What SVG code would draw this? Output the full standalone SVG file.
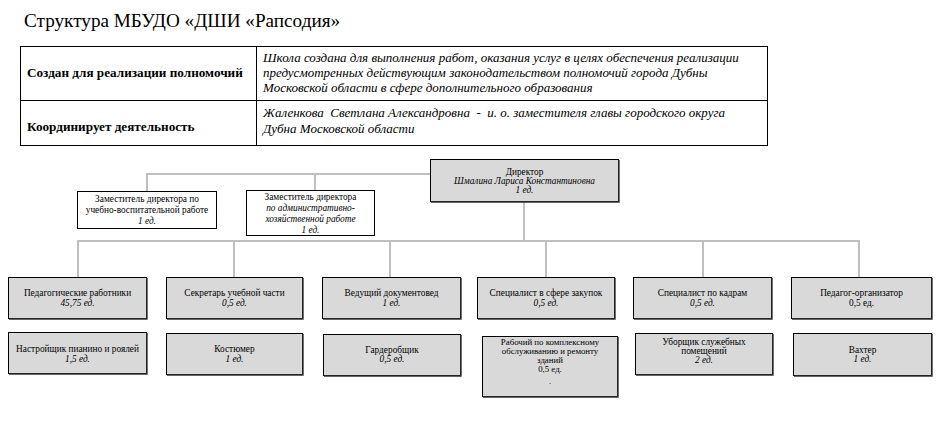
<svg xmlns="http://www.w3.org/2000/svg" width="940" height="439" viewBox="0 0 940 439">
<style>
text{font-family:"Liberation Serif","Times New Roman",serif;fill:#000}
.title{font-size:19.2px}
.th{font-size:13.2px;font-weight:bold}
.td{font-size:13px;font-style:italic}
.n{font-size:9.3px;text-anchor:middle}
.s{font-size:8.8px}
.i{font-style:italic}
.box{fill:#d9d9d9;stroke:#000;stroke-width:1}
.wbox{fill:#fff;stroke:#000;stroke-width:1}
.sh{fill:none;stroke:#333;stroke-width:1.4}
.tb{fill:none;stroke:#000;stroke-width:1}
.c{fill:none;stroke:#bfbfbf;stroke-width:2}
</style>
<text class="title" x="24" y="27">Структура МБУДО «ДШИ «Рапсодия»</text>
<g id="table">
<rect class="tb" x="20.5" y="46.5" width="747" height="99"/>
<line class="tb" x1="20" y1="100.5" x2="768" y2="100.5"/>
<line class="tb" x1="256.5" y1="46" x2="256.5" y2="146"/>
<text class="th" x="27" y="77">Создан для реализации полномочий</text>
<text class="th" x="27" y="131">Координирует деятельность</text>
<text class="td" x="263" y="62">Школа создана для выполнения работ, оказания услуг в целях обеспечения реализации</text>
<text class="td" x="263" y="77">предусмотренных действующим законодательством полномочий города Дубны</text>
<text class="td" x="263" y="92">Московской области в сфере дополнительного образования</text>
<text class="td" x="263" y="117" xml:space="preserve">Жаленкова  Светлана Александровна  -  и. о. заместителя главы городского округа</text>
<text class="td" x="263" y="133">Дубна Московской области</text>
</g>
<g id="connectors">
<polyline class="c" points="430,174 147,174 147,191"/>
<line class="c" x1="315" y1="174" x2="315" y2="190"/>
<line class="c" x1="524" y1="202" x2="524" y2="241"/>
<line class="c" x1="77" y1="241" x2="860" y2="241"/>
<line class="c" x1="78" y1="241" x2="78" y2="277"/>
<line class="c" x1="234" y1="241" x2="234" y2="277"/>
<line class="c" x1="390" y1="241" x2="390" y2="277"/>
<line class="c" x1="546" y1="241" x2="546" y2="277"/>
<line class="c" x1="703" y1="241" x2="703" y2="277"/>
<line class="c" x1="859" y1="241" x2="859" y2="277"/>
</g>
<g id="director">
<rect class="box" x="430.5" y="159.5" width="188" height="42"/>
<polyline class="sh" points="431,202 619,202 619,160"/>
<text class="n" x="524.5" y="175">Директор</text>
<text class="n i" x="524.5" y="184">Шмалина Лариса Константиновна</text>
<text class="n i" x="524.5" y="193">1 ед.</text>
</g>
<g id="deputy1">
<rect class="wbox" x="77.5" y="191.5" width="139" height="37"/>
<text class="n" x="147" y="202">Заместитель директора по</text>
<text class="n" x="147" y="213">учебно-воспитательной работе</text>
<text class="n i" x="147" y="224">1 ед.</text>
</g>
<g id="deputy2">
<rect class="wbox" x="246.5" y="190.5" width="128" height="45"/>
<text class="n" x="310.5" y="200">Заместитель директора</text>
<text class="n i" x="310.5" y="211">по административно-</text>
<text class="n i" x="310.5" y="222">хозяйственной работе</text>
<text class="n i" x="310.5" y="233">1 ед.</text>
</g>
<g id="ped">
<rect class="box" x="8.5" y="277.5" width="138" height="41"/>
<polyline class="sh" points="9,319 147,319 147,278"/>
<text class="n" x="77.5" y="296">Педагогические работники</text>
<text class="n i" x="77.5" y="306">45,75 ед.</text>
</g>
<g id="secretary">
<rect class="box" x="166.5" y="277.5" width="136" height="41"/>
<polyline class="sh" points="167,319 303,319 303,278"/>
<text class="n" x="234.5" y="296">Секретарь учебной части</text>
<text class="n i" x="234.5" y="306">0,5 ед.</text>
</g>
<g id="docs">
<rect class="box" x="322.5" y="277.5" width="138" height="41"/>
<polyline class="sh" points="323,319 461,319 461,278"/>
<text class="n" x="391.5" y="296">Ведущий документовед</text>
<text class="n i" x="391.5" y="306">1 ед.</text>
</g>
<g id="purchase">
<rect class="box" x="477.5" y="277.5" width="137" height="41"/>
<polyline class="sh" points="478,319 615,319 615,278"/>
<text class="n" x="546" y="296">Специалист в сфере закупок</text>
<text class="n i" x="546" y="306">0,5 ед.</text>
</g>
<g id="hr">
<rect class="box" x="633.5" y="277.5" width="138" height="41"/>
<polyline class="sh" points="634,319 772,319 772,278"/>
<text class="n" x="702.5" y="296">Специалист по кадрам</text>
<text class="n i" x="702.5" y="306">0,5 ед.</text>
</g>
<g id="organizer">
<rect class="box" x="791.5" y="277.5" width="140" height="41"/>
<polyline class="sh" points="792,319 932,319 932,278"/>
<text class="n" x="861.5" y="296">Педагог-организатор</text>
<text class="n" x="861.5" y="306">0,5 ед.</text>
</g>
<g id="tuner">
<rect class="box" x="8.5" y="332.5" width="138" height="41"/>
<polyline class="sh" points="9,374 147,374 147,333"/>
<text class="n" x="77.5" y="352">Настройщик пианино и роялей</text>
<text class="n i" x="77.5" y="362">1,5 ед.</text>
</g>
<g id="costume">
<rect class="box" x="166.5" y="333.5" width="136" height="41"/>
<polyline class="sh" points="167,375 303,375 303,334"/>
<text class="n" x="234.5" y="352">Костюмер</text>
<text class="n i" x="234.5" y="362">1 ед.</text>
</g>
<g id="cloak">
<rect class="box" x="323.5" y="334.5" width="137" height="41"/>
<polyline class="sh" points="324,376 461,376 461,335"/>
<text class="n" x="392" y="353">Гардеробщик</text>
<text class="n i" x="392" y="362">0,5 ед.</text>
</g>
<g id="worker">
<rect class="box" x="482.5" y="336.5" width="135" height="60"/>
<polyline class="sh" points="483,397 618,397 618,337"/>
<text class="n s" x="550" y="345">Рабочий по комплексному</text>
<text class="n s" x="550" y="354">обслуживанию и ремонту</text>
<text class="n s" x="550" y="363">зданий</text>
<text class="n s" x="550" y="372">0,5 ед.</text>
<text class="n s" x="550" y="384">.</text>
</g>
<g id="cleaner">
<rect class="box" x="635.5" y="333.5" width="137" height="41"/>
<polyline class="sh" points="636,375 773,375 773,334"/>
<text class="n" x="704" y="345">Уборщик служебных</text>
<text class="n" x="704" y="354">помещений</text>
<text class="n i" x="704" y="363">2 ед.</text>
</g>
<g id="guard">
<rect class="box" x="793.5" y="333.5" width="138" height="42"/>
<polyline class="sh" points="794,376 932,376 932,334"/>
<text class="n" x="862.5" y="353">Вахтер</text>
<text class="n i" x="862.5" y="362">1 ед.</text>
</g>
</svg>
